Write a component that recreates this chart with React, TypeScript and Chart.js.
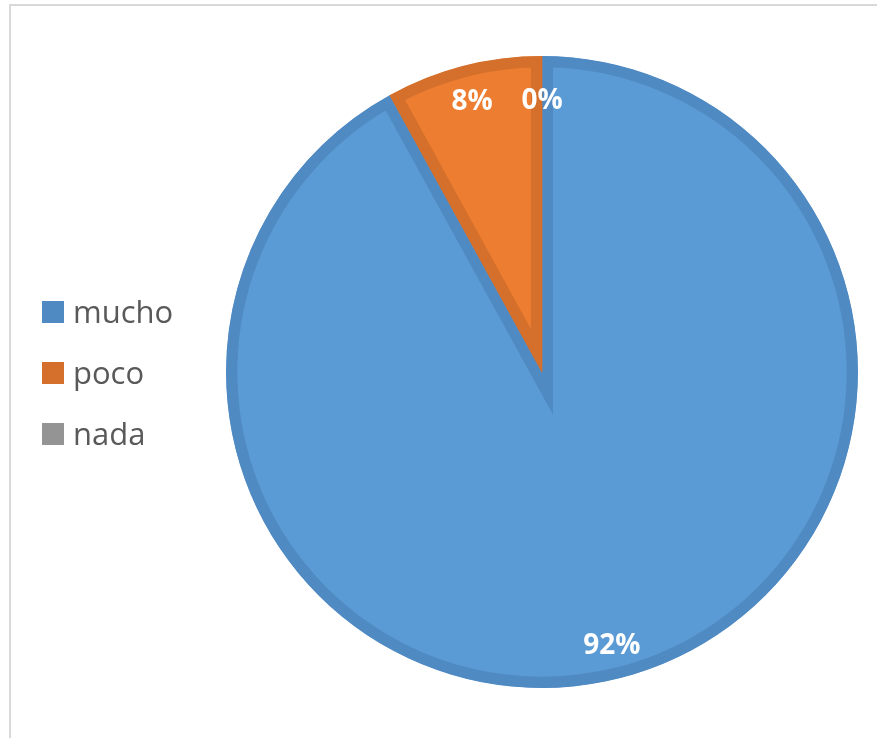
import React, { useEffect, useRef } from "react";
import { Chart, ArcElement, PieController } from "chart.js";

Chart.register(ArcElement, PieController);

// Survey answers and their shares (percent)
const categories = ["mucho", "poco", "nada"];
const shares = [92, 8, 0];

// Slice fill and slice edge colours
const fillColors = ["#5B9BD5", "#ED7D31", "#A5A5A5"];
const edgeColors = ["#508AC3", "#D4702B", "#949494"];

const FONT = "'Open Sans', 'Noto Sans', sans-serif";

// Light frame around the chart area
const framePlugin = {
  id: "frame",
  beforeDraw(chart: any) {
    const ctx = chart.ctx;
    ctx.save();
    ctx.fillStyle = "#D9D9D9";
    ctx.fillRect(9, 4, chart.width - 9, 2);
    ctx.fillRect(9, 4, 2, chart.height - 4);
    ctx.restore();
  },
};

// White percentage labels placed inside each slice
const sliceLabels = {
  id: "sliceLabels",
  afterDatasetsDraw(chart: any) {
    const ctx = chart.ctx;
    const meta = chart.getDatasetMeta(0);
    ctx.save();
    ctx.font = `bold 28px ${FONT}`;
    ctx.fillStyle = "#FFFFFF";
    ctx.textAlign = "center";
    ctx.textBaseline = "alphabetic";
    meta.data.forEach((arc: any, i: number) => {
      const { x, y, startAngle, endAngle, outerRadius } = arc.getProps(
        ["x", "y", "startAngle", "endAngle", "outerRadius"],
        true
      );
      const mid = (startAngle + endAngle) / 2;
      // empty slices sit a little further in, clear of the rim
      const r = outerRadius * (endAngle - startAngle > 0 ? 0.89 : 0.865);
      const tx = x + Math.cos(mid) * r;
      const ty = y + Math.sin(mid) * r;
      ctx.fillText(`${shares[i]}%`, tx, ty + 10);
    });
    ctx.restore();
  },
};

// Vertical legend on the left side
const sideLegend = {
  id: "sideLegend",
  afterDraw(chart: any) {
    const ctx = chart.ctx;
    ctx.save();
    ctx.font = `31px ${FONT}`;
    ctx.textAlign = "left";
    ctx.textBaseline = "alphabetic";
    categories.forEach((name, i) => {
      const top = 301 + i * 61;
      ctx.fillStyle = edgeColors[i];
      ctx.fillRect(42, top, 22, 22);
      ctx.fillStyle = "#595959";
      ctx.fillText(name, 73, top + 22);
    });
    ctx.restore();
  },
};

export default function App() {
  const canvasRef = useRef<HTMLCanvasElement | null>(null);

  useEffect(() => {
    const canvas = canvasRef.current;
    if (!canvas) return;
    const chart = new Chart(canvas, {
      type: "pie",
      data: {
        labels: categories,
        datasets: [
          {
            data: shares,
            backgroundColor: fillColors,
            borderColor: edgeColors,
            borderWidth: 11,
            borderAlign: "inner",
            borderJoinStyle: "miter",
            hoverOffset: 0,
          } as any,
        ],
      },
      options: {
        responsive: false,
        animation: false,
        devicePixelRatio: 1,
        events: [],
        layout: { padding: { left: 207, right: 0, top: 56, bottom: 50 } },
        plugins: {
          legend: { display: false },
          tooltip: { enabled: false },
        },
      } as any,
      plugins: [framePlugin, sliceLabels, sideLegend],
    });
    return () => chart.destroy();
  }, []);

  return (
    <div style={{ position: "absolute", left: 0, top: 0, width: 877, height: 738, background: "#FFFFFF" }}>
      <canvas ref={canvasRef} width={877} height={738} style={{ display: "block" }} />
    </div>
  );
}
